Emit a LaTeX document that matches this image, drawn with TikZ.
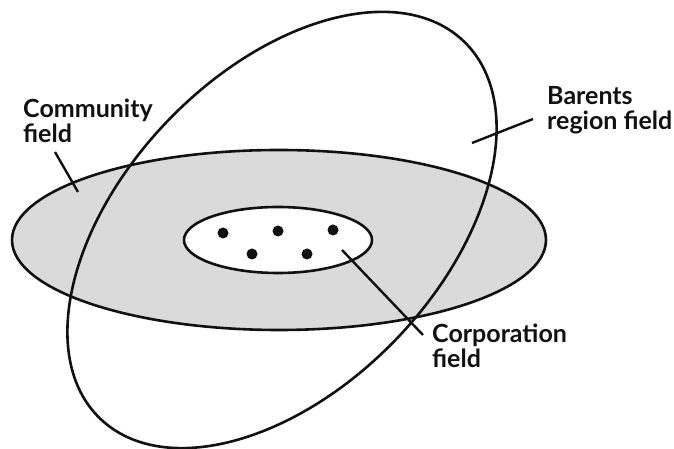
\documentclass[tikz,border=0pt]{standalone}
\usepackage{fontspec}
\setmainfont{Lato}
\usepackage{tikz}
\usetikzlibrary{positioning}
\definecolor{fieldgray}{HTML}{DADADA}
\definecolor{inkline}{HTML}{111111}

\begin{document}
\begin{tikzpicture}[
    x=1pt, y=1pt,
    every node/.style={font=\fontsize{25}{25}\selectfont\bfseries, text=inkline},
    fieldline/.style={draw=inkline, line width=2.6pt},
    label/.style={align=left, inner sep=0pt, anchor=base west},
    leader/.style={draw=inkline, line width=2.4pt},
    member/.style={circle, fill=inkline, inner sep=0pt, minimum size=11pt}
]
\useasboundingbox (0,0) rectangle (674,449);

% fields
\coordinate (community) at (279,209);
\coordinate (barents) at (282,219);
\fill[fieldgray] (community) ellipse [x radius=267, y radius=90];
\draw[fieldline] (community) ellipse [x radius=267, y radius=90];
\draw[fieldline, fill=white] (278,209) ellipse [x radius=94, y radius=33];

% companies
\node[member] (c1) at (223,216) {};
\node[member] (c2) at (278,218) {};
\node[member] (c3) at (333,219) {};
\node[member] (c4) at (252,195) {};
\node[member] (c5) at (307,195) {};

\draw[fieldline, rotate around={46:(barents)}] (barents) ellipse [x radius=262, y radius=158];

% labels (anchored at the last baseline)
\node[label] (comlabel) at (23,306) {Community\\field};
\node[label] (barlabel) at (547,319) {Barents\\region field};
\node[label] (corplabel) at (432,81) {Corporation\\field};

\coordinate (comtip) at (55,297);
\coordinate (comend) at (78,257);
\coordinate (bartip) at (533,330);
\coordinate (barend) at (472,306);
\coordinate (corptip) at (423,114);
\coordinate (corpend) at (342,199);

\draw[leader] (comtip) -- (comend);
\draw[leader] (bartip) -- (barend);
\draw[leader] (corptip) -- (corpend);

\end{tikzpicture}
\end{document}
